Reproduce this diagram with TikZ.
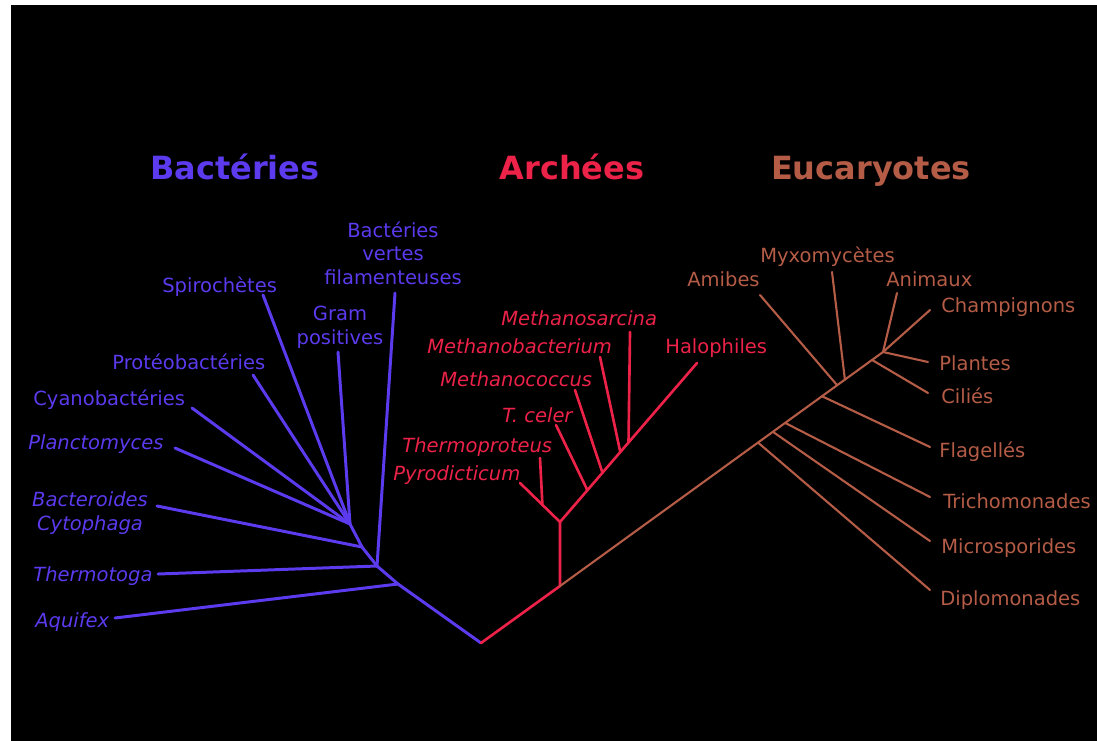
\documentclass[tikz,border=0pt]{standalone}
\usepackage{fontspec}
\setmainfont{DejaVu Sans}
\usetikzlibrary{calc, positioning}
\definecolor{bact}{RGB}{92,58,238}
\definecolor{arch}{RGB}{236,34,72}
\definecolor{euca}{RGB}{180,92,70}

\begin{document}
\begin{tikzpicture}[x=0.02cm, y=-0.02cm,
  lbl/.style={font=\fontsize{11.1}{13.3}\selectfont, inner sep=0pt},
  ital/.style={lbl, font=\fontsize{11.1}{13.3}\selectfont\itshape},
  dom/.style={font=\fontsize{18.2}{22}\selectfont\bfseries, inner sep=0pt, anchor=base},
  bbr/.style={draw=bact, line width=1.7pt, line cap=round, line join=round},
  abr/.style={draw=arch, line width=1.5pt, line cap=round, line join=round},
  ebr/.style={draw=euca, line width=1.2pt, line cap=round, line join=round}]
  % background
  \useasboundingbox (0,0) rectangle (1097,740);
  \fill[white] (0,0) rectangle (1097,740);
  \fill[black] (11,5) rectangle (1105,748);
  % domain titles
  \node[dom, text=bact] (tbact) at (235,179) {Bactéries};
  \node[dom, text=arch] (tarch) at (572,179) {Archées};
  \node[dom, text=euca] (teuca) at (871,179) {Eucaryotes};

  % bacteria: spine from the root up to the fan
  \coordinate (root) at (481,643);
  \coordinate (b1) at (398,584);
  \coordinate (b2) at (377,566);
  \coordinate (b3) at (362,547);
  \coordinate (b4) at (350,524);
  \coordinate (aqu) at (115,618);
  \coordinate (thm) at (158,574);
  \coordinate (bac) at (157,506);
  \coordinate (pla) at (175,448);
  \coordinate (cya) at (192,408);
  \coordinate (pro) at (253,375);
  \coordinate (spi) at (263,295);
  \coordinate (gra) at (338,352);
  \coordinate (ver) at (395,293);
  \draw[bbr] (root) -- (b1) -- (b2) -- (b3) -- (b4);
  \foreach \t/\j in {aqu/b1, thm/b2, ver/b2, bac/b3, pla/b4, cya/b4, pro/b4, spi/b4, gra/b4}
    \draw[bbr] (\j) -- (\t);
  \begin{scope}[text=bact]
    \node[ital, anchor=base west] (laqu) at (35,627) {Aquifex};
    \node[ital, anchor=base west] (lthm) at (33,581) {Thermotoga};
    \node[ital, anchor=base, align=center] (lbac) at (90,530) {Bacteroides\\Cytophaga};
    \node[ital, anchor=base west] (lpla) at (28,449) {Planctomyces};
    \node[lbl, anchor=base west] (lcya) at (33,405) {Cyanobactéries};
    \node[lbl, anchor=base west] (lpro) at (112,369) {Protéobactéries};
    \node[lbl, anchor=base west] (lspi) at (162,292) {Spirochètes};
    \node[lbl, anchor=base, align=center] (lgra) at (340,344) {Gram\\positives};
    \node[lbl, anchor=base, align=center] (lver) at (393,284) {Bactéries\\vertes\\filamenteuses};
  \end{scope}

  % archaea
  \coordinate (a0) at (560,586);
  \coordinate (a1) at (560,522);
  \coordinate (hal) at (697,363);
  \coordinate (pyr) at (520,483);
  \coordinate (thp) at (540,458);
  \coordinate (tce) at (556,425);
  \coordinate (mco) at (575,390);
  \coordinate (mba) at (600,357);
  \coordinate (msa) at (630,332);
  \coordinate (a2) at ($(a1)!0.44!(pyr)$);
  \coordinate (a3) at ($(a1)!0.2!(hal)$);
  \coordinate (a4) at ($(a1)!0.31!(hal)$);
  \coordinate (a5) at ($(a1)!0.44!(hal)$);
  \coordinate (a6) at ($(a1)!0.5!(hal)$);
  \draw[abr] (root) -- (a0) -- (a1) -- (hal);
  \foreach \t/\j in {pyr/a1, thp/a2, tce/a3, mco/a4, mba/a5, msa/a6}
    \draw[abr] (\j) -- (\t);
  \begin{scope}[text=arch]
    \node[ital, anchor=base west] (lpyr) at (393,480) {Pyrodicticum};
    \node[ital, anchor=base west] (lthp) at (402,452) {Thermoproteus};
    \node[ital, anchor=base west] (ltce) at (502,422) {T. celer};
    \node[ital, anchor=base west] (lmco) at (440,386) {Methanococcus};
    \node[ital, anchor=base west] (lmba) at (427,353) {Methanobacterium};
    \node[ital, anchor=base west] (lmsa) at (501,325) {Methanosarcina};
    \node[lbl, anchor=base west] (lhal) at (665,353) {Halophiles};
  \end{scope}

  % eucaryotes
  \coordinate (ep) at (883,352);
  \coordinate (cha) at (930,310);
  \coordinate (e1) at ($(a0)!0.613!(ep)$);
  \coordinate (e2) at ($(a0)!0.659!(ep)$);
  \coordinate (e3) at ($(a0)!0.697!(ep)$);
  \coordinate (e4) at ($(a0)!0.811!(ep)$);
  \coordinate (e5) at ($(a0)!0.858!(ep)$);
  \coordinate (e6) at ($(a0)!0.882!(ep)$);
  \coordinate (e7) at ($(a0)!0.966!(ep)$);
  \coordinate (dip) at (930,590);
  \coordinate (mic) at (930,541);
  \coordinate (tri) at (930,497);
  \coordinate (fla) at (930,447);
  \coordinate (ami) at (760,295);
  \coordinate (myx) at (832,272);
  \coordinate (cil) at (928,393);
  \coordinate (pla2) at (928,362);
  \coordinate (ani) at (897,293);
  \draw[ebr] (a0) -- (ep) -- (cha);
  \foreach \t/\j in {dip/e1, mic/e2, tri/e3, fla/e4, ami/e5, myx/e6, cil/e7, pla2/ep, ani/ep}
    \draw[ebr] (\j) -- (\t);
  \begin{scope}[text=euca]
    \node[lbl, anchor=base west] (lami) at (687,286) {Amibes};
    \node[lbl, anchor=base west] (lmyx) at (760,262) {Myxomycètes};
    \node[lbl, anchor=base west] (lani) at (886,286) {Animaux};
    \node[lbl, anchor=base west] (lcha) at (941,312) {Champignons};
    \node[lbl, anchor=base west] (lpla) at (939,370) {Plantes};
    \node[lbl, anchor=base west] (lcil) at (941,403) {Ciliés};
    \node[lbl, anchor=base west] (lfla) at (939,457) {Flagellés};
    \node[lbl, anchor=base west] (ltri) at (943,508) {Trichomonades};
    \node[lbl, anchor=base west] (lmic) at (941,553) {Microsporides};
    \node[lbl, anchor=base west] (ldip) at (940,605) {Diplomonades};
  \end{scope}
\end{tikzpicture}
\end{document}
